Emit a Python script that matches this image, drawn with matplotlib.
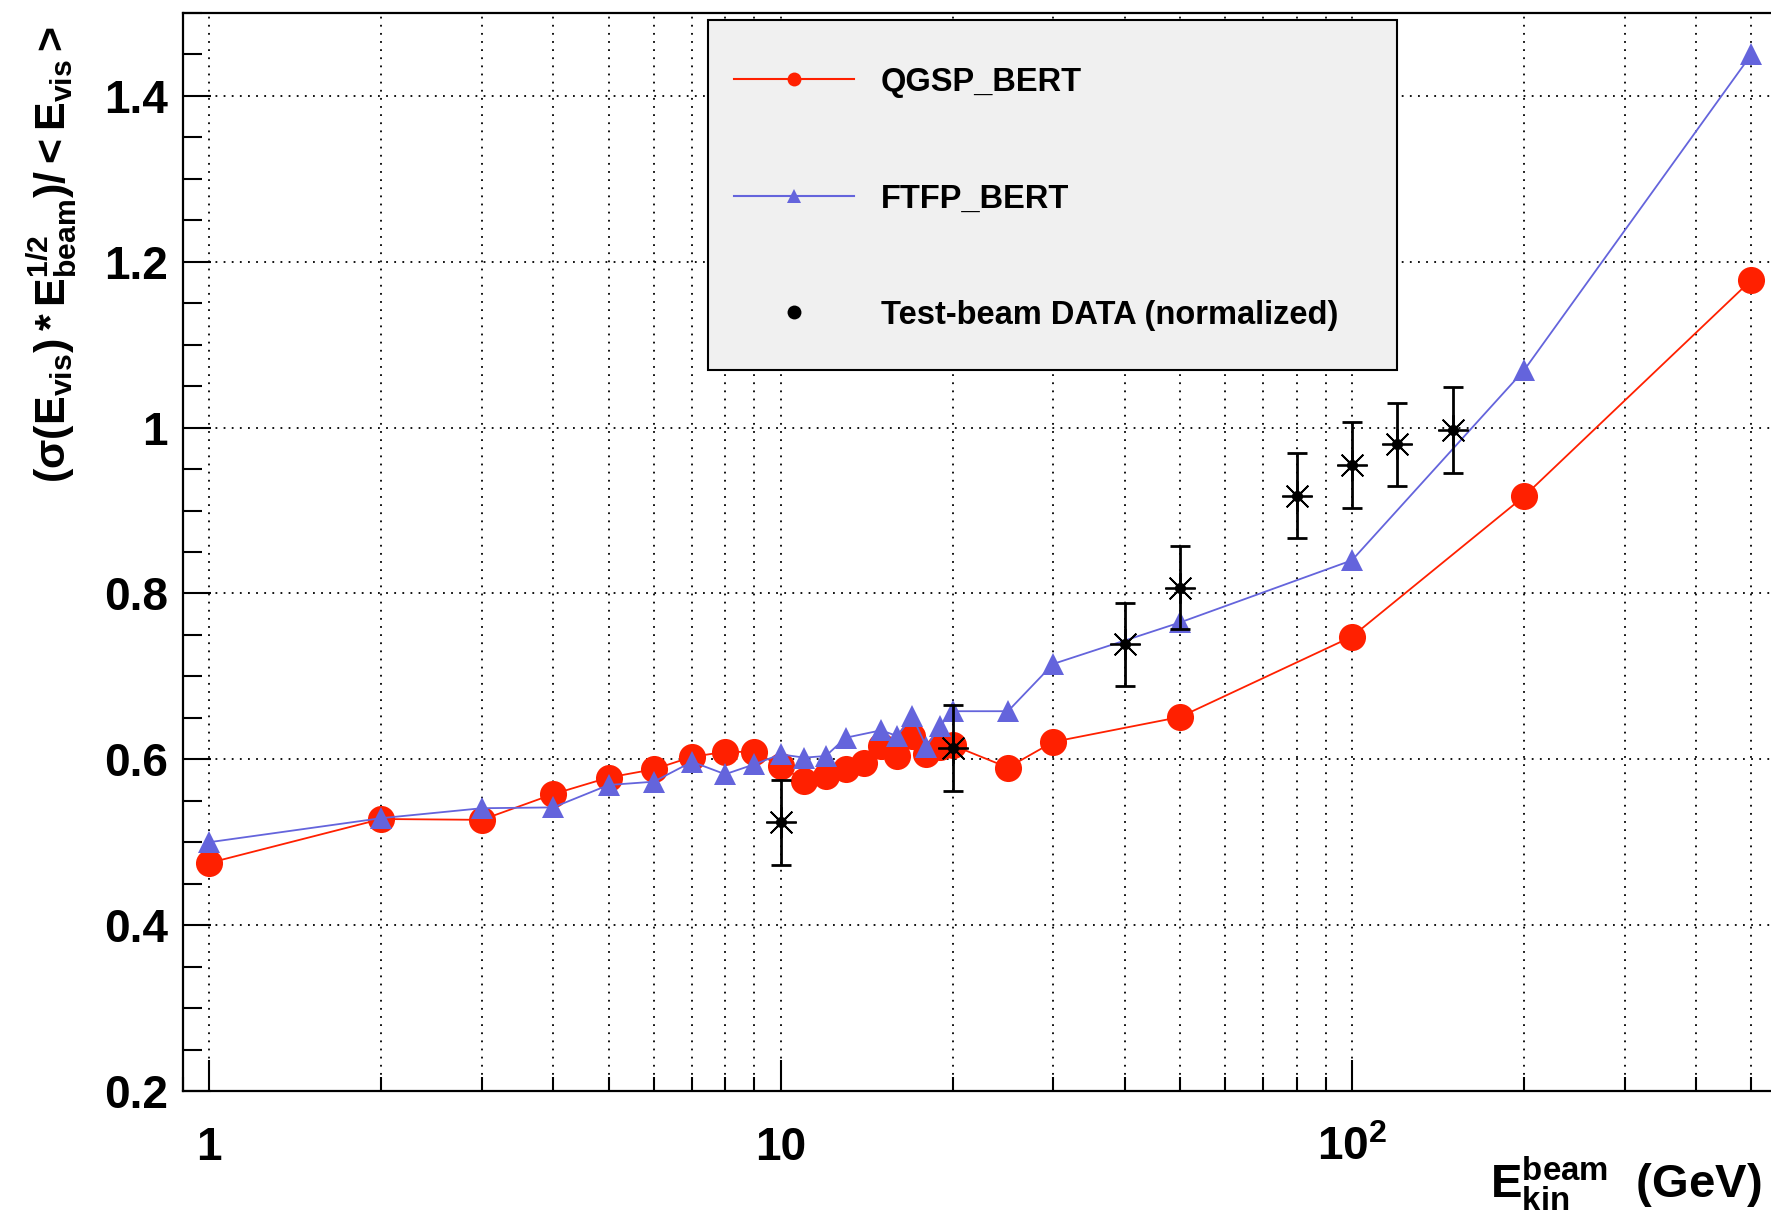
import matplotlib
matplotlib.use("Agg")
import matplotlib.pyplot as plt
import numpy as np
from matplotlib.ticker import (FixedLocator, FixedFormatter, NullFormatter,
                               MultipleLocator, LogLocator, FuncFormatter)
from matplotlib.lines import Line2D
from matplotlib.patches import Rectangle

plt.rcParams['font.family'] = ['Liberation Sans', 'DejaVu Sans']
plt.rcParams['font.weight'] = 'bold'
plt.rcParams['axes.labelweight'] = 'bold'
plt.rcParams['mathtext.fontset'] = 'custom'
plt.rcParams['mathtext.rm'] = 'Liberation Sans:bold'
plt.rcParams['mathtext.bf'] = 'Liberation Sans:bold'
plt.rcParams['mathtext.it'] = 'Liberation Sans:bold'
plt.rcParams['mathtext.default'] = 'bf'

# QGSP_BERT simulation
e_qgsp = [1, 2, 3, 4, 5, 6, 7, 8, 9, 10, 11, 12, 13, 14, 15, 16, 17, 18, 19, 20,
          25, 30, 50, 100, 200, 500]
res_qgsp = [0.475, 0.528, 0.527, 0.558, 0.578, 0.588, 0.603, 0.609, 0.609, 0.592,
            0.574, 0.580, 0.588, 0.596, 0.616, 0.604, 0.628, 0.606, 0.615, 0.617,
            0.590, 0.621, 0.651, 0.748, 0.917, 1.178]

# FTFP_BERT simulation
e_ftfp = [1, 2, 3, 4, 5, 6, 7, 8, 9, 10, 11, 12, 13, 15, 16, 17, 18, 19, 20,
          25, 30, 50, 100, 200, 500]
res_ftfp = [0.500, 0.529, 0.541, 0.542, 0.569, 0.573, 0.597, 0.582, 0.594, 0.606,
            0.602, 0.604, 0.626, 0.635, 0.628, 0.652, 0.615, 0.640, 0.658,
            0.658, 0.715, 0.765, 0.840, 1.069, 1.450]

# test-beam data (normalized)
e_data = [10, 20, 40, 50, 80, 100, 120, 150]
res_data = [0.524, 0.614, 0.739, 0.807, 0.918, 0.955, 0.980, 0.997]
err_data = [0.051, 0.052, 0.050, 0.050, 0.051, 0.052, 0.050, 0.052]

red = '#ff2000'
blue = '#6464dc'
W, H = 1771, 1215

fig = plt.figure(figsize=(W / 100, H / 100), dpi=100)
ax = fig.add_axes([183 / W, 1 - 1091 / H, (1775 - 183) / W, (1091 - 13) / H])

ax.plot(e_qgsp, res_qgsp, color=red, lw=1.3, marker='o', ms=19.5, mew=0, zorder=3)
ax.plot(e_ftfp, res_ftfp, color=blue, lw=1.3, marker='^', ms=15.5, mew=0, zorder=4)
ax.errorbar(e_data, res_data, yerr=err_data, fmt='none', ecolor='black',
            elinewidth=2, capsize=7, capthick=2, zorder=5)
ax.plot(e_data, res_data, ls='none', marker=(8, 2, 0), ms=22, mew=1.3,
        color='black', zorder=6)
ax.plot(e_data, res_data, ls='none', marker='o', ms=7, color='black', zorder=6)

ax.set_xscale('log')
ax.set_xlim(0.9, 550)
ax.set_ylim(0.2, 1.5)

ax.xaxis.set_major_locator(FixedLocator([1, 10, 100]))
ax.xaxis.set_major_formatter(FixedFormatter(['1', '10', '$10^{2}$']))
ax.xaxis.set_minor_locator(LogLocator(base=10, subs=np.arange(2, 10)))
ax.xaxis.set_minor_formatter(NullFormatter())
ax.yaxis.set_major_locator(MultipleLocator(0.2))
ax.yaxis.set_minor_locator(MultipleLocator(0.05))
ax.yaxis.set_major_formatter(FuncFormatter(lambda v, p: '%g' % round(v, 2)))

gstyle = dict(color='black', lw=1.3, ls=(0, (1, 3.5)))
ax.grid(True, which='major', axis='both', **gstyle)
ax.grid(True, which='minor', axis='x', **gstyle)
ax.set_axisbelow(True)

ax.tick_params(axis='x', which='major', direction='in', length=22, width=1.5,
               pad=50, labelsize=33, top=False)
ax.tick_params(axis='x', which='minor', direction='in', length=10, width=1.5, top=False)
ax.tick_params(axis='y', which='major', direction='in', length=20, width=1.5,
               pad=11, labelsize=33, right=False)
ax.tick_params(axis='y', which='minor', direction='in', length=14, width=1.5, right=False)
for lbl in ax.get_xticklabels():
    lbl.set_va('baseline')
for s in ax.spines.values():
    s.set_linewidth(1.6)

ax.set_xlabel(r'$E_{kin}^{beam}$  (GeV)', fontsize=34, loc='right')
ax.xaxis.label.set_va('baseline')
ax.xaxis.set_label_coords(0.9918, -0.0993)

ax.set_ylabel(r'$(\sigma(E_{vis})*E_{beam}^{1/2})/<E_{vis}>$', fontsize=31, loc='top')
ax.yaxis.label.set_va('baseline')
ax.yaxis.set_label_coords(-0.0735, 0.9880)

# legend box
fig.add_artist(Rectangle((708 / W, 1 - 370 / H), 689 / W, 350 / H,
                         transform=fig.transFigure, facecolor='#f0f0f0',
                         edgecolor='black', lw=1.5, zorder=10))
rows = [79, 196, 312]
entries = [('QGSP_BERT', red, 'o', True), ('FTFP_BERT', blue, '^', True),
           ('Test-beam DATA (normalized)', 'black', 'o', False)]
for py, (name, col, mk, line) in zip(rows, entries):
    fy = 1 - py / H
    if line:
        fig.add_artist(Line2D([734 / W, 854 / W], [fy, fy], transform=fig.transFigure,
                              color=col, lw=1.5, zorder=11))
    fig.add_artist(Line2D([794 / W], [fy], transform=fig.transFigure, ls='none',
                          marker=mk, ms=10, mew=0, color=col, zorder=12))
    fig.text(881 / W, fy, name, fontsize=23.5, weight='bold', va='center_baseline',
             ha='left', zorder=12)

fig.savefig('out.png', dpi=100)
